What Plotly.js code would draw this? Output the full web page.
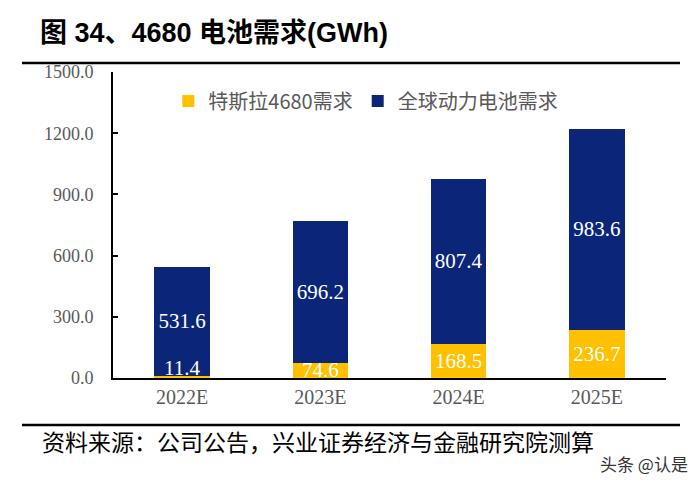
<!DOCTYPE html>
<html>
<head>
<meta charset="utf-8">
<script src="https://cdn.plot.ly/plotly-3.0.1.min.js"></script>
<style>html,body{margin:0;padding:0;background:#fff;}#chart{width:700px;height:483px;}</style>
</head>
<body>
<div id="chart"></div>
<script>
const categories = ['2022E', '2023E', '2024E', '2025E'];
const tesla4680 = [11.4, 74.6, 168.5, 236.7];
const globalDemand = [531.6, 696.2, 807.4, 983.6];
const seriesNames = ['特斯拉4680需求', '全球动力电池需求'];
const yTicks = [0, 300, 600, 900, 1200, 1500];

const serif = 'Liberation Serif, Times New Roman, serif';
const cjk = 'Noto Sans CJK SC, sans-serif';

const traces = [
  {
    type: 'bar', name: seriesNames[0], x: categories, y: tesla4680,
    marker: {color: '#FFC000'}, width: 0.4,
    text: tesla4680.map((v, i) => i === 0 ? '' : v.toFixed(1)), textposition: 'inside',
    insidetextanchor: 'middle', constraintext: 'none', cliponaxis: false,
    textfont: {family: serif, size: 21, color: '#ffffff'}, hoverinfo: 'skip'
  },
  {
    type: 'bar', name: seriesNames[1], x: categories, y: globalDemand,
    marker: {color: '#0B2679'}, width: 0.4,
    text: globalDemand.map(v => v.toFixed(1)), textposition: 'inside',
    insidetextanchor: 'middle', constraintext: 'none', cliponaxis: false,
    textfont: {family: serif, size: 21, color: '#ffffff'}, hoverinfo: 'skip'
  }
];

const layout = {
  width: 700, height: 483,
  margin: {l: 113, r: 34, t: 72, b: 105},
  paper_bgcolor: '#ffffff', plot_bgcolor: '#ffffff',
  barmode: 'stack',
  showlegend: true,
  legend: {
    orientation: 'h', x: 0.1, xanchor: 'left', y: 0.905, yanchor: 'middle',
    font: {family: cjk, size: 20, color: '#595959'}, bgcolor: 'rgba(0,0,0,0)',
    traceorder: 'normal', itemwidth: 30
  },
  title: {
    text: '<b>图 34、4680 电池需求(GWh)</b>',
    font: {family: 'Liberation Sans, Noto Sans CJK SC, sans-serif', size: 27, color: '#000000'},
    x: 40 / 700, xref: 'container', xanchor: 'left',
    y: 1 - 33 / 483, yref: 'container', yanchor: 'middle'
  },
  xaxis: {
    type: 'category', showgrid: false, zeroline: false,
    showline: true, linecolor: '#000000', linewidth: 2,
    ticks: '', tickfont: {family: serif, size: 20, color: '#595959'},
    fixedrange: true
  },
  yaxis: {
    range: [0, 1500], tickvals: yTicks, ticktext: yTicks.map(v => v.toFixed(1)),
    showgrid: false, zeroline: false, showline: true, linecolor: '#000000', linewidth: 2,
    ticks: 'inside', ticklen: 5, tickwidth: 2, tickcolor: '#000000',
    tickfont: {family: serif, size: 18, color: '#595959'},
    ticklabelstandoff: 14, fixedrange: true
  },
  shapes: [
    {type: 'line', xref: 'paper', yref: 'paper', x0: -0.1646, x1: 1.0253, y0: 1.0294, y1: 1.0294, line: {color: '#000000', width: 2.5}},
    {type: 'line', xref: 'paper', yref: 'paper', x0: -0.1646, x1: 1.0253, y0: -0.1536, y1: -0.1536, line: {color: '#000000', width: 2.5}}
  ],
  annotations: [
    {
      text: tesla4680[0].toFixed(1), showarrow: false,
      xref: 'x', yref: 'y', x: categories[0], y: 0, yanchor: 'bottom', yshift: -4,
      font: {family: serif, size: 21, color: '#ffffff'}
    },
    {
      text: '资料来源：公司公告，兴业证券经济与金融研究院测算', showarrow: false,
      xref: 'paper', yref: 'paper', x: (40 - 113) / 553, xanchor: 'left',
      y: (378 - 441) / 306, yanchor: 'middle',
      font: {family: cjk, size: 23, color: '#000000'}
    },
    {
      text: '头条 @认是', showarrow: false,
      xref: 'paper', yref: 'paper', x: (690 - 113) / 553, xanchor: 'right',
      y: (378 - 464) / 306, yanchor: 'middle',
      font: {family: cjk, size: 17, color: '#333333'}
    }
  ]
};

Plotly.newPlot('chart', traces, layout, {displayModeBar: false, staticPlot: true});
</script>
</body>
</html>
